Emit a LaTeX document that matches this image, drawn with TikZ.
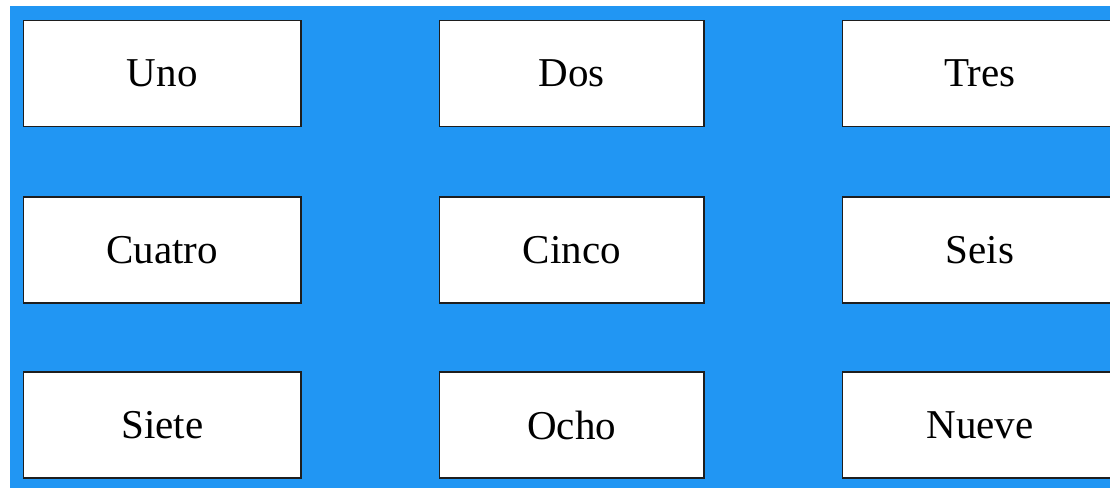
\documentclass[tikz,border=0pt]{standalone}
\usepackage{fontspec}
\setmainfont{Liberation Serif}
\definecolor{bgblue}{RGB}{33,150,243}
\definecolor{edge}{RGB}{30,30,30}
\tikzset{
  cell/.style={draw=edge, line width=1.3pt, fill=white, rectangle, inner sep=0pt,
    minimum height=106pt, font=\fontsize{41}{48}\selectfont}
}
\begin{document}
\begin{tikzpicture}[x=1pt,y=-1pt]
\useasboundingbox (0,0) rectangle (1110,488);
\fill[white] (0,0) rectangle (1110,488);
\fill[bgblue] (10,6) rectangle (1110,488);
\node[cell, minimum width=277.5pt] (uno) at (162.25,73.75) {Uno};
\node[cell, minimum width=264.5pt] (dos) at (571.75,73.75) {Dos};
\node[cell, minimum width=275pt] (tres) at (980,73.75) {Tres};
\node[cell, minimum width=277.5pt] (cuatro) at (162.25,250) {Cuatro};
\node[cell, minimum width=264.5pt] (cinco) at (571.75,250) {Cinco};
\node[cell, minimum width=275pt] (seis) at (980,250) {Seis};
\node[cell, minimum width=277.5pt] (siete) at (162.25,425) {Siete};
\node[cell, minimum width=264.5pt] (ocho) at (571.75,425) {Ocho};
\node[cell, minimum width=275pt] (nueve) at (980,425) {Nueve};
\end{tikzpicture}
\end{document}
